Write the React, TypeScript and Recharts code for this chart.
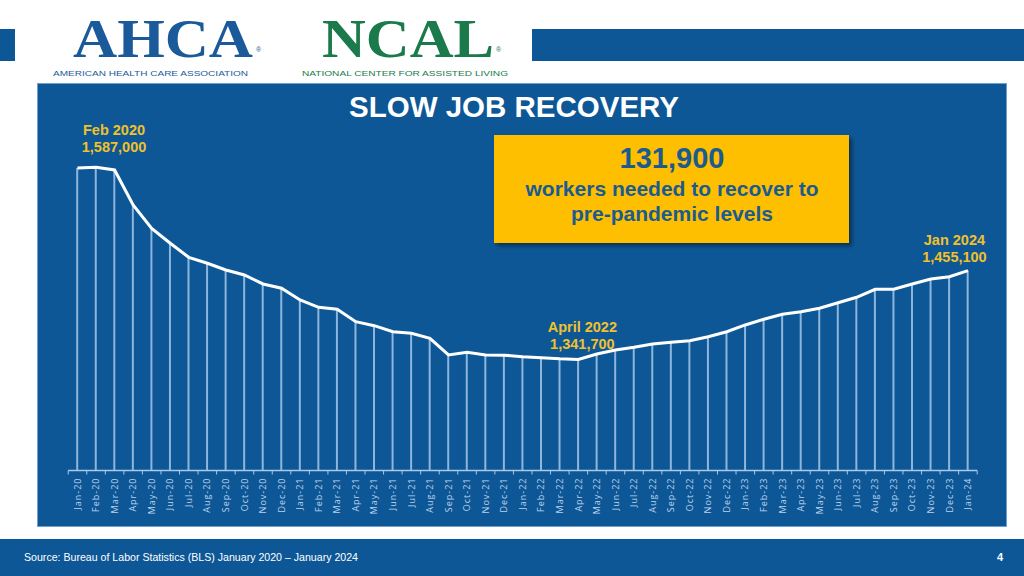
import React from "react";
import { ComposedChart, Line, Bar, XAxis, YAxis, LabelList } from "recharts";

const months = [
  "Jan-20", "Feb-20", "Mar-20", "Apr-20", "May-20", "Jun-20", "Jul-20", "Aug-20", "Sep-20", "Oct-20", "Nov-20", "Dec-20",
  "Jan-21", "Feb-21", "Mar-21", "Apr-21", "May-21", "Jun-21", "Jul-21", "Aug-21", "Sep-21", "Oct-21", "Nov-21", "Dec-21",
  "Jan-22", "Feb-22", "Mar-22", "Apr-22", "May-22", "Jun-22", "Jul-22", "Aug-22", "Sep-22", "Oct-22", "Nov-22", "Dec-22",
  "Jan-23", "Feb-23", "Mar-23", "Apr-23", "May-23", "Jun-23", "Jul-23", "Aug-23", "Sep-23", "Oct-23", "Nov-23", "Dec-23",
  "Jan-24",
];

const workers = [
  1586000, 1587000, 1583500, 1538800, 1509000, 1489900, 1472000, 1464400, 1455800, 1449500, 1438000, 1432500,
  1417600, 1408200, 1405700, 1389900, 1384800, 1377100, 1375100, 1368700, 1347400, 1350800, 1347400, 1347200,
  1345200, 1343900, 1342500, 1341700, 1348700, 1353800, 1357200, 1361400, 1363600, 1365600, 1370700, 1377100,
  1385700, 1392900, 1399300, 1402600, 1407000, 1414100, 1421000, 1431200, 1431400, 1438000, 1444400, 1447300,
  1455100,
];

const yDomain = [1200000, 1600000];

const annotMonths = ["Feb-20", "Apr-22", "Jan-24"];
const annotTitles = ["Feb 2020", "April 2022", "Jan 2024"];
const annotValues = ["1,587,000", "1,341,700", "1,455,100"];

const title = "SLOW JOB RECOVERY";
const calloutNumber = "131,900";
const calloutLines = ["workers needed to recover to", "pre-pandemic levels"];
const sourceText = "Source: Bureau of Labor Statistics (BLS) January 2020 \u2013 January 2024";
const pageNumber = "4";

const data = months.map((m, i) => ({ month: m, workers: workers[i] }));

// layout
const W = 1024;
const H = 576;
const PLOT_LEFT = 68.2;
const PLOT_RIGHT = 977.2;
const PLOT_TOP = 157;
const PLOT_BOTTOM = 470.5;
const HALF_BAND = (PLOT_RIGHT - PLOT_LEFT) / months.length / 2;

const BLUE = "#0e5796";
const YELLOW = "#f0c12c";
const PALE = "#a9c8ea";
const SANS = "'Liberation Sans', Arial, sans-serif";

const annotOffsets = [
  { dx: 18, dy1: -32, dy2: -15 },
  { dx: 4, dy1: -27, dy2: -10 },
  { dx: -13.5, dy1: -26, dy2: -9 },
];

const AxisTick = (props: any) => {
  const { x, y, payload, index } = props;
  return (
    <g>
      <line x1={x - HALF_BAND} x2={x - HALF_BAND} y1={y} y2={y + 4} stroke={PALE} strokeWidth={1} />
      {index === months.length - 1 && (
        <line x1={x + HALF_BAND} x2={x + HALF_BAND} y1={y} y2={y + 4} stroke={PALE} strokeWidth={1} />
      )}
      <text
        transform={`translate(${x},${y + 7}) rotate(-90)`}
        textAnchor="end"
        dy="0.35em"
        fill="#bcd3ec"
        fontSize={9}
        letterSpacing={1}
        fontFamily="'Open Sans', sans-serif"
      >
        {payload.value}
      </text>
    </g>
  );
};

const AnnotLabel = (props: any) => {
  const { x, y, index } = props;
  const k = annotMonths.indexOf(months[index]);
  if (k < 0) return null;
  const o = annotOffsets[k];
  return (
    <g fontFamily={SANS} fontWeight="bold" fontSize={14.5} fill={YELLOW} textAnchor="middle">
      <text x={x + o.dx} y={y + o.dy1}>{annotTitles[k]}</text>
      <text x={x + o.dx} y={y + o.dy2}>{annotValues[k]}</text>
    </g>
  );
};

export default function App() {
  return (
    <div style={{ position: "absolute", left: 0, top: 0, width: W, height: H, background: "#fff", overflow: "hidden" }}>
      <svg width={W} height={H} style={{ position: "absolute", left: 0, top: 0 }}>
        <defs>
          <filter id="shadow" x="-10%" y="-10%" width="130%" height="140%">
            <feDropShadow dx="3" dy="3" stdDeviation="2" floodColor="#000" floodOpacity="0.45" />
          </filter>
        </defs>
        {/* header bars */}
        <rect x={0} y={29} width={15} height={32} fill={BLUE} />
        <rect x={532} y={29} width={492} height={32} fill={BLUE} />
        {/* AHCA logo */}
        <text x={73} y={57} fontFamily="'Liberation Serif', 'Times New Roman', serif" fontWeight="bold" fontSize={54} fill="#1b5a9a" textLength={180} lengthAdjust="spacingAndGlyphs">AHCA</text>
        <text x={256} y={52} fontFamily={SANS} fontSize={7} fill="#1b5a9a">®</text>
        <text x={53} y={76} fontFamily={SANS} fontSize={8} fill="#1b5a9a" textLength={195} lengthAdjust="spacingAndGlyphs">AMERICAN HEALTH CARE ASSOCIATION</text>
        {/* NCAL logo */}
        <text x={322} y={57} fontFamily="'Liberation Serif', 'Times New Roman', serif" fontWeight="bold" fontSize={54} fill="#1a7a4b" textLength={172} lengthAdjust="spacingAndGlyphs">NCAL</text>
        <text x={496} y={52} fontFamily={SANS} fontSize={7} fill="#1a7a4b">®</text>
        <text x={302} y={76} fontFamily={SANS} fontSize={8} fill="#1a7a4b" textLength={206} lengthAdjust="spacingAndGlyphs">NATIONAL CENTER FOR ASSISTED LIVING</text>
        {/* panel */}
        <rect x={37.5} y={83.5} width={969} height={443} fill={BLUE} stroke="#6f9fd3" strokeWidth={1} />
        {/* title */}
        <text x={514} y={117} textAnchor="middle" fontFamily={SANS} fontWeight="bold" fontSize={29.5} fill="#fff">{title}</text>
        {/* callout */}
        <rect x={494} y={135} width={355} height={108} fill="#fdbf00" filter="url(#shadow)" />
        <text x={672} y={168} textAnchor="middle" fontFamily={SANS} fontWeight="bold" fontSize={29} fill="#1b5b8f">{calloutNumber}</text>
        <text x={672} y={196} textAnchor="middle" fontFamily={SANS} fontWeight="bold" fontSize={21} fill="#1b5b8f">{calloutLines[0]}</text>
        <text x={672} y={221} textAnchor="middle" fontFamily={SANS} fontWeight="bold" fontSize={21} fill="#1b5b8f">{calloutLines[1]}</text>
        {/* footer */}
        <rect x={0} y={539} width={W} height={37} fill={BLUE} />
        <text x={24} y={561} fontFamily="'Liberation Sans Narrow', 'Arial Narrow', 'Liberation Sans', sans-serif" fontSize={11} fill="#fff" textLength={334} lengthAdjust="spacingAndGlyphs">{sourceText}</text>
        <text x={1000} y={561} textAnchor="middle" fontFamily={SANS} fontWeight="bold" fontSize={11} fill="#fff">{pageNumber}</text>
      </svg>
      <div style={{ position: "absolute", left: 0, top: 0 }}>
        <ComposedChart
          width={W}
          height={H}
          data={data}
          margin={{ top: PLOT_TOP, right: W - PLOT_RIGHT, bottom: 40, left: PLOT_LEFT }}
        >
          <XAxis
            dataKey="month"
            interval={0}
            height={H - 40 - PLOT_BOTTOM}
            tickLine={false}
            tickSize={0}
            tickMargin={0}
            axisLine={{ stroke: PALE, strokeWidth: 1.5 }}
            tick={<AxisTick />}
          />
          <YAxis hide domain={yDomain} />
          <Bar dataKey="workers" barSize={2} fill="rgba(185,212,240,0.75)" isAnimationActive={false} />
          <Line
            dataKey="workers"
            type="linear"
            stroke="#ffffff"
            strokeWidth={3}
            dot={false}
            isAnimationActive={false}
          >
            <LabelList dataKey="workers" content={<AnnotLabel />} />
          </Line>
        </ComposedChart>
      </div>
    </div>
  );
}
